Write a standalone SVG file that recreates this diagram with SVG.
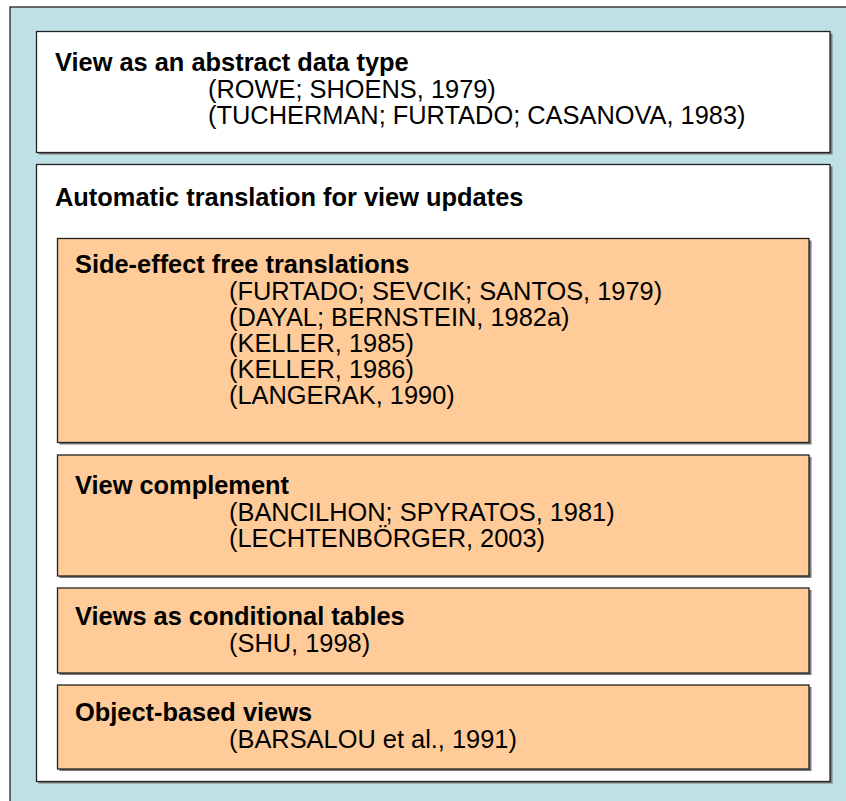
<svg xmlns="http://www.w3.org/2000/svg" width="846" height="801" viewBox="0 0 846 801">
  <style>
    .frame { fill: #bde1e4; stroke: #222; stroke-width: 1.3; }
    .panel { fill: #ffffff; stroke: #222; stroke-width: 1.3; }
    .item { fill: #ffcc99; stroke: #222; stroke-width: 1.3; }
    .shadow { fill: #7a7a7a; }
    text { font-family: "Liberation Sans", Arial, sans-serif; font-size: 25.4px; fill: #000; }
    .title { font-weight: bold; }
  </style>

  <!-- background frame (runs off the right and bottom edges) -->
  <rect class="frame" x="10" y="7" width="860" height="820"/>

  <!-- panel: abstract data type -->
  <g id="panel-adt">
    <rect class="shadow" x="38.5" y="33.5" width="794" height="121"/>
    <rect class="panel" x="36.5" y="31.5" width="793.5" height="121"/>
    <text class="title" x="55" y="71">View as an abstract data type</text>
    <text x="208" y="98">(ROWE; SHOENS, 1979)</text>
    <text x="208" y="124">(TUCHERMAN; FURTADO; CASANOVA, 1983)</text>
  </g>

  <!-- panel: automatic translation -->
  <g id="panel-translation">
    <rect class="shadow" x="38.5" y="166.5" width="794" height="617"/>
    <rect class="panel" x="36.5" y="164.5" width="793.5" height="617"/>
    <text class="title" x="55" y="206">Automatic translation for view updates</text>
  </g>

  <g id="side-effect-free">
    <rect class="shadow" x="59.5" y="240.5" width="752" height="204"/>
    <rect class="item" x="57.5" y="238.5" width="751.5" height="204"/>
    <text class="title" x="75" y="273">Side-effect free translations</text>
    <text x="229" y="300">(FURTADO; SEVCIK; SANTOS, 1979)</text>
    <text x="229" y="326">(DAYAL; BERNSTEIN, 1982a)</text>
    <text x="229" y="352">(KELLER, 1985)</text>
    <text x="229" y="378">(KELLER, 1986)</text>
    <text x="229" y="404">(LANGERAK, 1990)</text>
  </g>

  <g id="view-complement">
    <rect class="shadow" x="59.5" y="457" width="752" height="121"/>
    <rect class="item" x="57.5" y="455" width="751.5" height="121"/>
    <text class="title" x="75" y="494">View complement</text>
    <text x="229" y="521">(BANCILHON; SPYRATOS, 1981)</text>
    <text x="229" y="547">(LECHTENBÖRGER, 2003)</text>
  </g>

  <g id="conditional-tables">
    <rect class="shadow" x="59.5" y="590" width="752" height="85"/>
    <rect class="item" x="57.5" y="588" width="751.5" height="85"/>
    <text class="title" x="75" y="625">Views as conditional tables</text>
    <text x="229" y="652">(SHU, 1998)</text>
  </g>

  <g id="object-based">
    <rect class="shadow" x="59.5" y="687" width="752" height="84"/>
    <rect class="item" x="57.5" y="685" width="751.5" height="84"/>
    <text class="title" x="75" y="721">Object-based views</text>
    <text x="229" y="748">(BARSALOU et al., 1991)</text>
  </g>

  <g id="connectors"/>
</svg>
